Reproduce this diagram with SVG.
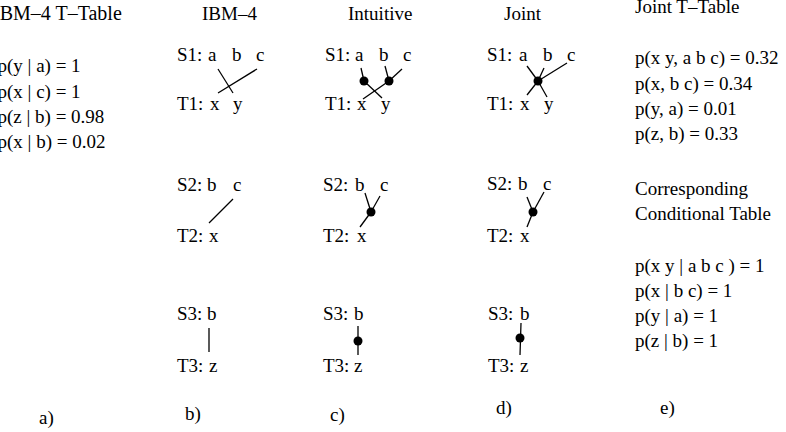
<svg xmlns="http://www.w3.org/2000/svg" width="786" height="432" viewBox="0 0 786 432">
<style>
text{font-family:"Liberation Serif","Times New Roman",serif;font-size:19px;fill:#000}
.l{stroke:#000;stroke-width:1.3;fill:none}
.d{fill:#000}
</style>
<rect width="786" height="432" fill="#fff"/>
<g id="table-ibm4">
<text x="-7" y="20" style="font-size:20px">IBM–4 T–Table</text>
<text x="-2.5" y="72">p(y | a) = 1</text>
<text x="-2.5" y="97.5">p(x | c) = 1</text>
<text x="-2.5" y="123">p(z | b) = 0.98</text>
<text x="-2.5" y="148">p(x | b) = 0.02</text>
<text x="39" y="424">a)</text>
</g>
<g id="col-ibm4">
<text x="202" y="20">IBM–4</text>
<text y="61"><tspan x="177">S1:</tspan><tspan x="208">a</tspan><tspan x="232">b</tspan><tspan x="256">c</tspan></text>
<text y="110"><tspan x="177">T1:</tspan><tspan x="210">x</tspan><tspan x="233">y</tspan></text>
<text y="191"><tspan x="177">S2:</tspan><tspan x="207">b</tspan><tspan x="233">c</tspan></text>
<text y="242"><tspan x="177">T2:</tspan><tspan x="209">x</tspan></text>
<text y="320"><tspan x="177">S3:</tspan><tspan x="207">b</tspan></text>
<text y="372"><tspan x="177">T3:</tspan><tspan x="209">z</tspan></text>
<text x="185" y="420">b)</text>
</g>
<g id="col-intuitive">
<text x="348" y="20">Intuitive</text>
<text y="61"><tspan x="325">S1:</tspan><tspan x="355">a</tspan><tspan x="379">b</tspan><tspan x="403">c</tspan></text>
<text y="110"><tspan x="325">T1:</tspan><tspan x="357">x</tspan><tspan x="381">y</tspan></text>
<text y="191"><tspan x="323">S2:</tspan><tspan x="355">b</tspan><tspan x="380">c</tspan></text>
<text y="242"><tspan x="323">T2:</tspan><tspan x="357">x</tspan></text>
<text y="320"><tspan x="323">S3:</tspan><tspan x="354">b</tspan></text>
<text y="372"><tspan x="323">T3:</tspan><tspan x="354">z</tspan></text>
<text x="330" y="421">c)</text>
</g>
<g id="col-joint">
<text x="504" y="20">Joint</text>
<text y="61"><tspan x="487">S1:</tspan><tspan x="519">a</tspan><tspan x="543">b</tspan><tspan x="567">c</tspan></text>
<text y="110"><tspan x="487">T1:</tspan><tspan x="520">x</tspan><tspan x="544">y</tspan></text>
<text y="190"><tspan x="487">S2:</tspan><tspan x="518">b</tspan><tspan x="543">c</tspan></text>
<text y="242"><tspan x="487">T2:</tspan><tspan x="520">x</tspan></text>
<text y="320"><tspan x="488">S3:</tspan><tspan x="520">b</tspan></text>
<text y="372"><tspan x="488">T3:</tspan><tspan x="520">z</tspan></text>
<text x="496" y="414">d)</text>
</g>
<g id="table-joint">
<text x="635" y="12.5">Joint T–Table</text>
<text x="635" y="64">p(x y, a b c) = 0.32</text>
<text x="635" y="90">p(x, b c) = 0.34</text>
<text x="635" y="115">p(y, a) = 0.01</text>
<text x="635" y="140">p(z, b) = 0.33</text>
<text x="635" y="195">Corresponding</text>
<text x="635" y="220">Conditional Table</text>
<text x="635" y="272">p(x y | a b c ) = 1</text>
<text x="635" y="297">p(x | b c) = 1</text>
<text x="635" y="322">p(y | a) = 1</text>
<text x="635" y="347">p(z | b) = 1</text>
<text x="660" y="414">e)</text>
</g>
<g id="connectors">
<line class="l" x1="218" y1="69" x2="233" y2="93"/>
<line class="l" x1="257" y1="69" x2="218" y2="93"/>
<line class="l" x1="233" y1="199" x2="209" y2="223"/>
<line class="l" x1="209" y1="328" x2="209" y2="352"/>

<line class="l" x1="361" y1="68" x2="364" y2="81"/>
<line class="l" x1="364" y1="81" x2="382" y2="98"/>
<line class="l" x1="385" y1="66" x2="389" y2="81"/>
<line class="l" x1="402" y1="69" x2="389" y2="81"/>
<line class="l" x1="389" y1="81" x2="363" y2="99"/>
<circle class="d" cx="364" cy="81" r="4.5"/>
<circle class="d" cx="389" cy="81" r="4.5"/>
<line class="l" x1="365" y1="193" x2="371" y2="212"/>
<line class="l" x1="380" y1="196" x2="371" y2="212"/>
<line class="l" x1="371" y1="212" x2="360" y2="227"/>
<circle class="d" cx="371" cy="212" r="4.5"/>
<line class="l" x1="358" y1="326" x2="358" y2="355"/>
<circle class="d" cx="358" cy="341" r="4.5"/>

<line class="l" x1="527" y1="66" x2="538" y2="81"/>
<line class="l" x1="544" y1="68" x2="538" y2="81"/>
<line class="l" x1="567" y1="63" x2="538" y2="81"/>
<line class="l" x1="538" y1="81" x2="527" y2="95"/>
<line class="l" x1="538" y1="81" x2="547" y2="97"/>
<circle class="d" cx="538" cy="81" r="4.5"/>
<line class="l" x1="527" y1="197" x2="533" y2="212"/>
<line class="l" x1="544" y1="192" x2="533" y2="212"/>
<line class="l" x1="533" y1="212" x2="527" y2="227"/>
<circle class="d" cx="533" cy="212" r="4.5"/>
<line class="l" x1="521" y1="323" x2="520" y2="355"/>
<circle class="d" cx="520" cy="338" r="4.5"/>
</g>
</svg>
